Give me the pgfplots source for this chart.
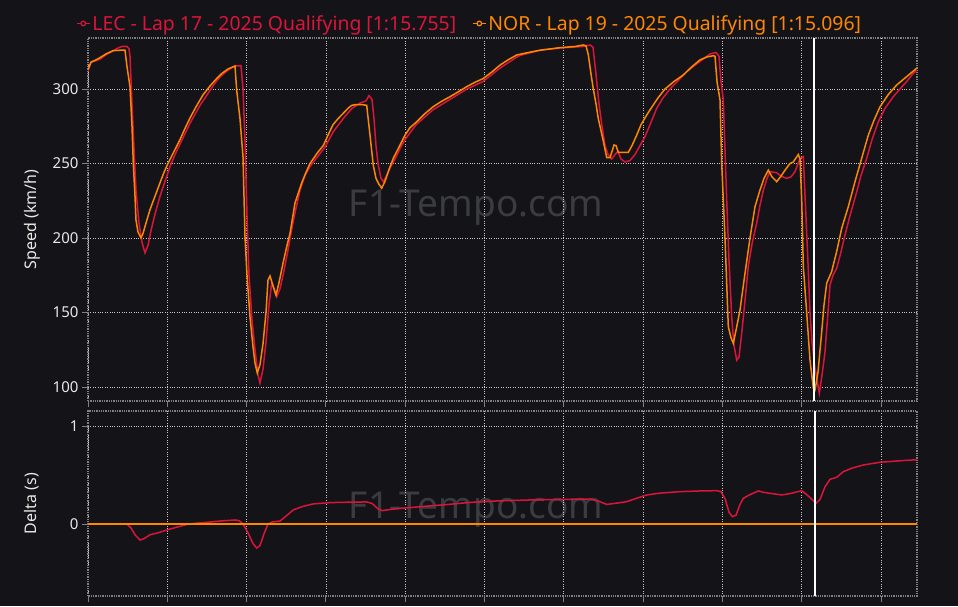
\documentclass[border=0pt]{standalone}
\usepackage{fontspec}
\setmainfont{Noto Sans}
\usepackage{pgfplots}
\pgfplotsset{compat=1.18}
\usepackage{pgfplotstable}
\definecolor{bg}{HTML}{141418}
\definecolor{lec}{HTML}{DC143C}
\definecolor{nor}{HTML}{FF8700}
\definecolor{gridc}{HTML}{C8C8C8}
\definecolor{framec}{HTML}{808080}
\definecolor{txt}{HTML}{E8E8E8}
\definecolor{wm}{HTML}{3A3C42}

% x = horizontal position along the lap (chart units), speed in km/h
\pgfplotstableread{
x spd
88 312
91 318
96 319
100 320
106 323
113 325.5
118 327.5
122 328.5
127 328.5
129 327
130 322
132 290
134 260
136 232
139 210
142 197
145 190
148 195
151 205
155 216
160 228
165 238
170 248
175 256
180 263
185 270
190 277
195 283
200 289
205 294
210 299
215 304
220 308
225 311
230 313.5
235 315.5
241 315.5
243 300
245 265
247 215
249 175
252 145
255 125
258 108
260 102.7
263 112
266 130
269 155
271.7 169.8
276.7 160.6
280 166
284 178
288 192
292 207
296 220
300 232
305 242
310 248
318 255
325 261
333 271
343 280
352 287
360 290.5
366 292
369 295.5
372 293
374 280
376 262
378 250
381 240
383.3 237.8
386 241
390 247
395 253
400 260
405 266
416 276
433 286
450 293
467 300
483 305
500 314
517 321.5
520 322.5
540 326
560 327.5
583 328.5
590 329.5
593 328
596 310
599 290
602 275
605 262
608 256
611.7 253
615 256
618 258
621 253
625 251
630 252
635 256
640 262
645 268
650 276
656.7 287
663 294
670 300
678 305.5
686.7 311.6
695 316
703 320
710 323.5
716 324.5
719 322
721 305
723.3 292.6
726.7 225.5
729 185
731.7 147
734 128
736.7 118
739 120
741.7 136
745 158
748.3 181
752 196
756.7 210
760 222
763.3 232
767 240
770 244.5
776.7 243.8
781 241.5
786.7 240
791 241
795 244.5
800 253.4
803.3 254.6
806.7 203
808.5 175
810 150
812 130
815 112.8
819.3 95.8
822 108
825 123.6
828 150
830 168.4
833 175
836.7 179.7
840 188
845 202
850 215
856.7 231
861 242
866.7 253.5
872 266
878.3 278
885 287
893.3 294.8
900 300
906.7 305
912 309.5
916.7 312.7
}\leclap

\pgfplotstableread{
x spd
88 313
91 318
96 319.5
100 321
106 323.5
113 325.7
120 326
125 326
127 315
130 301.5
132 275
133.3 250
135 228
136 212
138 204
141 200
143 203
146 210
150 219
155 228
160 237
164 244
168 250
174 258
180 266
185 273.5
190 280.5
196 288
203 296
210 302
216.7 307
222 310.5
228 313.4
235 315.4
236.7 299
240 280
243 254.6
245 200.7
247 175
250 147
253 127
255 116
257.3 109.4
260 115
263 129
266 150
268 171.8
270 174.5
273 168
276 161.7
279 170
283 183
287 195
290 203
295 223.5
301.7 237
306 244
310 250
318 257.7
323.3 262
328 269
333 276
338 280
343.3 283.7
348 287
351.7 289
356 289.5
362 289.5
366.7 289
370 269
373.3 248.7
376 240
379 236
381.7 233.4
385 238
389 246
393.3 253.5
399 261
405 269
410 274
416.7 278
425 283.5
433 288
441 291.5
450 294.8
458 298
466.7 301.5
475 304.5
483.3 307
492 311.5
500 316
508 319.5
516.7 322.8
525 324
540 326
560 327.7
575 328.5
583.3 329.5
586 329
588.3 323
591 310
593.3 300
596 290
598.3 280
601 272
603.3 265
606.7 254
610 254
612 258
614 262.4
616 262
618.3 257.5
628.3 257.5
632 262
636.7 269
641 276
646.7 282.5
652 288
658 294
665 300
674 305
683.3 309.4
692 315
700 319.5
707 321.5
713.3 322.3
715 322
717 305
720 292.6
721.7 250
725 200
728.3 140.5
731 133
733.3 129.3
736 138
740 151.7
745 176.3
750 200
755 221
760 232.2
764 240
768.3 245.5
772 241
776.7 237.8
781 241.5
785 245.5
790 250
793.3 251
798.3 256
800 253
801.7 225.5
803.3 181
806.7 149.7
810 118
813.3 99.3
815 98
818 110
821.7 137
824 155
826.7 169.7
831.7 177.5
836.7 191
841.7 206.5
848.3 221
855 237.8
861.7 253.5
868.3 269
874 279
880 288
888 296
896.7 302.7
906.7 308.3
916.7 313.9
}\norlap

\pgfplotstableread{
x d
88 0
126.7 0
131 -0.04
135 -0.11
140 -0.164
144 -0.15
150 -0.11
158 -0.09
166.7 -0.062
176 -0.035
186.7 -0.005
196 0.008
206.7 0.017
220 0.03
235 0.041
239 0.035
243 0.0
248 -0.09
253 -0.2
256.7 -0.246
260 -0.22
264 -0.1
268 0.0
272 0.02
280 0.03
286 0.08
293.3 0.144
303 0.18
313.3 0.205
330 0.218
346.7 0.222
366.7 0.225
372 0.21
378 0.155
382 0.136
390 0.148
400 0.16
413.3 0.17
430 0.185
446.7 0.198
470 0.22
496.7 0.235
530 0.245
560 0.25
590 0.255
598 0.235
606.7 0.2
615 0.21
626.7 0.228
636 0.26
646.7 0.296
660 0.315
680 0.33
700 0.337
716.7 0.34
721 0.33
725 0.26
729 0.12
732.3 0.075
736 0.09
740 0.2
743.3 0.262
750 0.3
758.3 0.337
764 0.322
770 0.313
781.7 0.296
790 0.31
801.7 0.34
806.7 0.3
811 0.26
816 0.211
820 0.25
825 0.38
830 0.456
836.7 0.476
843.3 0.534
852 0.57
863.3 0.602
880 0.63
900 0.645
916.7 0.656
}\deltalap

\pgfplotsset{
  f1/.style={
    scale only axis, width=829pt,
    xmin=88, xmax=917,
    xtick={88,167.3,...,890}, xticklabels={},
    xtick pos=bottom, ytick pos=left,
    grid=major,
    major grid style={gridc, dotted, line width=0.8pt},
    axis line style={framec, densely dotted, line width=1.3pt},
    tick style={framec, line width=0.9pt},
    tick align=outside, major tick length=6pt,
    ticklabel style={txt, font=\fontsize{15}{15}\selectfont},
    label style={txt, font=\fontsize{16}{16}\selectfont},
    /pgf/number format/assume math mode=true,
    ylabel style={at={(axis description cs:-0.0675,0.5)}, anchor=center},
  }
}

\begin{document}
\begin{tikzpicture}
\fill[bg] (0pt,0pt) rectangle (958pt,606pt);
\useasboundingbox (0pt,0pt) rectangle (958pt,606pt);
\node[wm, font=\fontsize{37}{37}\selectfont\bfseries] at (476pt,398pt) {F1-Tempo.com};
\node[wm, font=\fontsize{37}{37}\selectfont\bfseries] at (476pt,96pt) {F1-Tempo.com};

\begin{axis}[f1,
  at={(88pt,205pt)}, anchor=south west, height=363pt,
  ymin=90.6, ymax=334.2,
  ytick={100,150,200,250,300},
  ylabel={Speed (km/h)},
  legend columns=2,
  legend style={at={(axis description cs:-0.0145,1.04)}, anchor=west,
    draw=none, fill=none, inner sep=0pt,
    font=\fontsize{19.4}{19.4}\selectfont,
    /tikz/every even column/.append style={column sep=14pt}},
  legend image code/.code={
    \draw[#1, line width=1.2pt] (0pt,0pt) -- (13pt,0pt);
    \draw[#1, line width=1.2pt, fill=bg] (6.5pt,0pt) circle (2.3pt);},
]
\addplot[lec, line width=1.5pt] table[x=x, y=spd] {\leclap};
\addlegendentry{\textcolor{lec}{LEC - Lap 17 - 2025 Qualifying [1:15.755]}}
\addplot[nor, line width=1.5pt] table[x=x, y=spd] {\norlap};
\addlegendentry{\textcolor{nor}{NOR - Lap 19 - 2025 Qualifying [1:15.096]}}
\addplot[white, line width=2pt, forget plot] coordinates {(813.5,90.6) (813.5,334.2)};
\end{axis}

\begin{axis}[f1,
  at={(88pt,10pt)}, anchor=south west, height=185pt,
  ymin=-0.735, ymax=1.153,
  ytick={0,1},
  ylabel={Delta (s)},
]
\addplot[lec, line width=1.5pt] table[x=x, y=d] {\deltalap};
\addplot[nor, line width=1.5pt] coordinates {(88,0) (917,0)};
\addplot[white, line width=2pt] coordinates {(815,-0.735) (815,1.153)};
\end{axis}
\end{tikzpicture}
\end{document}
